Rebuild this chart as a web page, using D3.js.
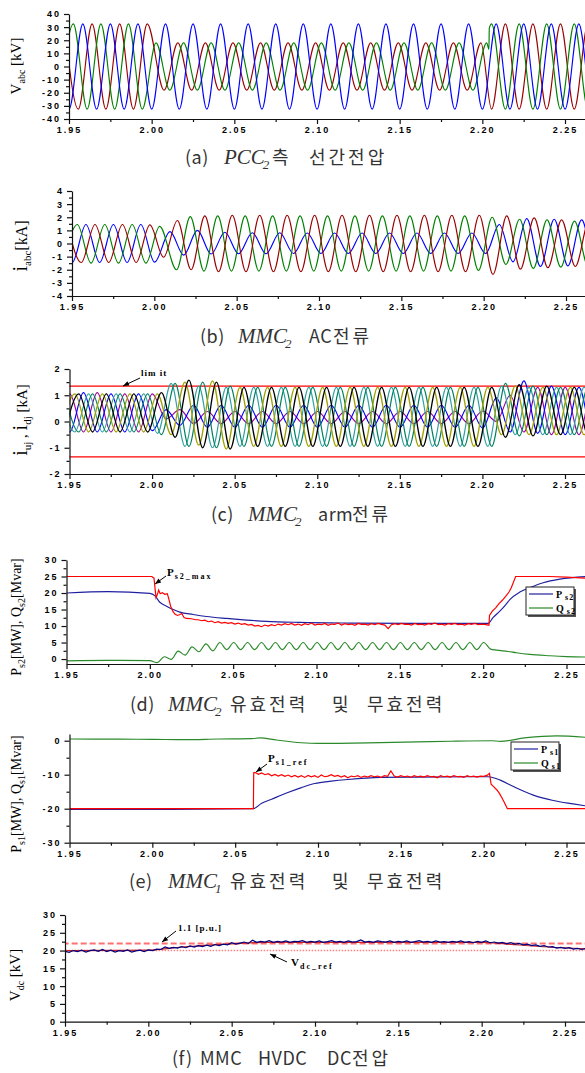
<!DOCTYPE html>
<html>
<head>
<meta charset="utf-8">
<script src="https://cdn.jsdelivr.net/npm/d3@7"></script>
<style>
  body { margin: 0; background: #fff; }
  svg { display: block; }
  .ax .domain, .ax .tick line { stroke: #111; stroke-width: 1.2; }
  .ax .tick text { font-family: "Liberation Sans", Arial, sans-serif; font-weight: bold; font-size: 9px; letter-spacing: 2px; fill: #000; }
  .lbl { font-family: "Liberation Serif", "Times New Roman", serif; fill: #000; }
  .cap { font-family: "Noto Sans CJK KR", sans-serif; font-size: 18px; fill: #333; letter-spacing: 3px; }
  .capl { font-family: "Noto Sans CJK KR", sans-serif; font-size: 18px; fill: #333; letter-spacing: 0.5px; }
  .capi { font-family: "Liberation Serif", "Times New Roman", serif; font-style: italic; font-size: 21px; fill: #333; }
  .note { font-family: "Liberation Serif", "Times New Roman", serif; font-weight: bold; fill: #000; }
</style>
</head>
<body>
<svg id="fig" width="585" height="1073"></svg>
<script>
const W = 585;
const HALF = 1 / 120;   // half cycle, 60 Hz
const RIP = 1 / 240;    // half cycle of the 120 Hz ripple

// time axis [s]
const xTicks = [1.95, 2.00, 2.05, 2.10, 2.15, 2.20, 2.25];
const xMinor = [1.975, 2.025, 2.075, 2.125, 2.175, 2.225];

// (a) PCC2 line voltages [kV] - extremes every half cycle
const aYTicks = [-40, -30, -20, -10, 0, 10, 20, 30, 40];
const aYMinor = [-35, -25, -15, -5, 5, 15, 25, 35];
const aBlue = [
  {t0: 1.9417, dt: HALF, v: [32.5,-32.5,32.5,-32.5,32.5,-32.5,32.5,-32.5,32.5,-32.5,
    32.5,-32.5,32.5,-32.5,32.5,-32.5,32.5,-32.5,32.5,-32.5,
    32.5,-32.5,32.5,-32.5,32.5,-32.5,32.5,-32.5,32.5,-32.5,
    32.5,-32.5,32.5,-32.5,32.5,-32.5,32.5,-32.5,32.5,-32.5,32.5]}
];
const aRed = [
  {t0: 1.9473, dt: HALF, v: [32.5,-32.5,32.5,-32.5,32.5,-32.5,32.5]},
  {t0: 2.0075, dt: HALF, v: [-18,18,-18,18,-18,18,-18,18,-18,18,-18,18,
    -18,18,-18,18,-18,18,-18,18,-18,18,-18,18]},
  {t0: 2.2056, dt: HALF, v: [-32.5,32.5,-32.5,32.5,-32.5,32.5,-32.5,32.5,-32.5]}
];
const aGreen = [
  {t0: 1.9443, dt: HALF, v: [-32.5,32.5,-32.5,32.5,-32.5,32.5,-32.5,
    18,-18,18,-18,18,-18,18,-18,18,-18,18,-18,18,-18,18,-18,18,-18,18,-18,18,-18,18,-18,18]},
  {pts: [[2.2040, 13], [2.2042, 29]]},
  {t0: 2.2056, dt: HALF, v: [32.5,-32.5,32.5,-32.5,32.5,-32.5,32.5,-32.5,32.5]}
];

// (b) MMC2 AC currents [kA]
const bYTicks = [-4, -3, -2, -1, 0, 1, 2, 3, 4];
const bYMinor = [-3.5, -2.5, -1.5, -0.5, 0.5, 1.5, 2.5, 3.5];
const bBlue = [
  {t0: 1.9418, dt: HALF, v: [1.45,-1.45,1.45,-1.45,1.45,-1.45,1.45,-1.42]},
  {t0: 2.0095, dt: HALF, v: [0.9,-0.88,1.0,-0.8,0.86,-0.78,0.82,-0.78,0.82,-0.76,0.8,-0.76,
    0.8,-0.76,0.8,-0.76,0.8,-0.76,0.8,-0.76,0.8,-0.76,0.8,-0.76]},
  {t0: 2.2095, dt: HALF, v: [1.45,-1.4,1.9,-1.75,1.85,-1.7,1.8,-1.65,1.75]}
];
const bRed = [
  {t0: 1.9473, dt: HALF, v: [1.45,-1.45,1.45,-1.45,1.45,-1.45,1.42,-1.05]},
  {t0: 2.0140, dt: HALF, v: [1.75,-2.0,2.1,-2.15,2.15,-2.15,2.15,-2.15,2.15,-2.15,2.15,-2.15,
    2.15,-2.15,2.15,-2.15,2.15,-2.15,2.15,-2.15,2.15,-2.15,2.15,-2.35,
    2.1,-1.95,1.95,-1.85,1.8,-1.75,1.7,-1.7]}
];
const bGreen = [
  {t0: 1.9449, dt: HALF, v: [-1.45,1.45,-1.5,1.45,-1.5,1.45,-1.5,1.3]},
  {t0: 2.0135, dt: HALF, v: [-2.0,2.05,-2.1,2.1,-2.1,2.1,-2.1,2.1,-2.1,2.1,-2.1,2.1,
    -2.1,2.1,-2.1,2.1,-2.1,2.1,-2.1,2.1,-2.1,2.1,-2.05,2.0,
    -1.6,1.85,-1.9,1.8,-1.8,1.7,-1.75,1.7]}
];

// (c) MMC2 arm currents [kA]
const cYTicks = [-2, -1, 0, 1, 2];
const cYMinor = [-1.5, -0.5, 0.5, 1.5];
const cLimit = 1.35;
const cGreen = [{t0: 1.9473, dt: HALF, v: [1.05,-0.4,1.05,-0.4,1.05,-0.4,1.05,
  -0.5,1.45,-0.95,1.5,-1.0,1.35,
  -0.95,1.3,-0.95,1.3,-0.95,1.3,-0.95,1.3,-0.95,1.3,-0.95,1.3,-0.95,1.3,-0.95,1.3,-0.95,1.3,
  -0.95,
  1.45,-0.55,1.35,-0.5,1.3,-0.5,1.3,-0.5]}];
const cBlack = [{t0: 1.9473, dt: HALF, v: [-0.4,1.05,-0.4,1.05,-0.4,1.05,-0.4,
  1.1,-0.6,1.58,-1.0,1.5,-1.05,
  1.3,-0.95,1.3,-0.95,1.3,-0.95,1.3,-0.95,1.3,-0.95,1.3,-0.95,1.3,-0.95,1.3,-0.95,1.3,-0.95,
  1.3,
  -0.6,1.4,-0.55,1.35,-0.5,1.3,-0.5,1.3]}];
const cOlive = [{t0: 1.9449, dt: HALF, v: [-0.4,1.05,-0.4,1.05,-0.4,1.05,-0.4,
  1.05,-0.5,1.5,-0.9,1.55,-1.05,
  1.3,-0.95,1.3,-0.95,1.3,-0.95,1.3,-0.95,1.3,-0.95,1.3,-0.95,1.3,-0.95,1.3,-0.95,1.3,-0.95,
  1.3,
  -0.5,1.35,-0.5,1.3,-0.5,1.3,-0.5,1.3]}];
const cTeal = [{t0: 1.9449, dt: HALF, v: [1.05,-0.4,1.05,-0.4,1.05,-0.4,1.05,
  -0.45,1.45,-0.95,1.35,-1.0,1.3,
  -0.95,1.3,-0.95,1.3,-0.95,1.3,-0.95,1.3,-0.95,1.3,-0.95,1.3,-0.95,1.3,-0.95,1.3,-0.95,1.3,
  -0.95,
  1.35,-0.5,1.3,-0.5,1.3,-0.5,1.3,-0.5]}];
const cBlue = [{t0: 1.9418, dt: HALF, v: [1.05,-0.4,1.1,-0.4,1.05,-0.4,1.05,-0.35,
  0.45,-0.15,
  0.62,-0.22,0.62,-0.22,0.62,-0.22,0.62,-0.22,0.62,-0.22,0.62,-0.22,0.62,-0.22,0.62,-0.22,0.62,-0.22,0.62,-0.22,0.62,
  -0.25,0.9,
  -0.4,1.55,-0.45,1.35,-0.5,1.3,-0.5,1.3]}];
const cPurple = [{t0: 1.9418, dt: HALF, v: [-0.4,1.05,-0.4,1.1,-0.4,1.05,-0.4,1.05,
  0.1,0.45,
  -0.08,0.38,-0.08,0.38,-0.08,0.38,-0.08,0.38,-0.08,0.38,-0.08,0.38,-0.08,0.38,-0.08,0.38,-0.08,0.38,-0.08,0.38,-0.08,
  0.4,0.0,
  1.0,-0.4,1.3,-0.5,1.3,-0.5,1.3,-0.5]}];

// (d) MMC2 active / reactive power
const dYTicks = [0, 5, 10, 15, 20, 25, 30];
const dYMinor = [2.5, 7.5, 12.5, 17.5, 22.5, 27.5];
const dRef = [
  {pts: [[1.95,25],[2.0012,25],[2.0025,24.5],[2.0037,18.6],[2.0045,19.5],[2.0053,20.9],[2.0062,19.8],
    [2.0075,20.1],[2.009,19.6],[2.0105,19.8],[2.0115,18],[2.0125,16],[2.0138,14.5],[2.015,13.6],
    [2.0165,13.2],[2.0178,13.4],[2.0192,13.8],[2.0205,12.6],[2.022,12.3],[2.025,12.2],[2.0275,11.9]]},
  {t0: 2.029, dt: 0.002, v: [11.9,11.6,11.8,11.3,11.5,11.0,11.3,10.9,11.1,10.8,
    11.0,10.6,10.9,10.5,10.7,10.3,10.5,10.0,10.2,9.8,
    10.3,10.0,10.4,10.1,10.6,10.3,10.7,10.4,10.8,10.3,
    10.6,10.2,10.7,10.4,10.9,10.3,10.6,10.4,10.8,10.2,
    10.6,10.5,10.9,10.3,10.7,10.4,10.6,10.2,10.8,10.5,
    10.6,10.3,10.7,10.4,10.8,10.5,10.3,9.2,10.4,10.7,
    10.4,10.8,10.5,10.6,10.3,10.8,10.4,10.6,10.3,10.7,
    10.5,10.9,10.4,10.6,10.3,10.7,10.5,10.8,10.4,10.6,
    10.3,10.7,10.5,10.8,10.4,10.6,10.5,10.3]},
  {pts: [[2.2035,10.3],[2.2038,13.2],[2.2055,14.5],[2.2075,15.5],[2.2095,16.8],[2.2115,17.8],
    [2.2135,19],[2.2155,20.3],[2.2168,21.5],[2.2195,25],[2.24,25],[2.25,24.8],[2.262,24.5]]}
];
const dP = [{pts: [[1.95,20.0],[1.975,20.4],[2.0,19.9],[2.003,19.2],[2.006,17.2],[2.010,16.0],[2.014,15.0],
  [2.018,14.2],[2.026,13.5],[2.034,12.9],[2.046,12.3],[2.058,11.8],[2.07,11.4],[2.09,11.1],[2.12,10.9],
  [2.16,10.8],[2.203,10.8],[2.206,12.6],[2.210,14.5],[2.2136,16.5],[2.216,18.0],[2.222,20.3],[2.228,21.6],
  [2.236,23.1],[2.246,24.2],[2.262,25.0]]}];
const dQ = [
  {pts: [[1.95,-0.55],[1.975,-0.4],[2.0,-0.5]]},
  {t0: 2.0045, dt: RIP, v: [-1.1,0.7,-0.1,2.4,1.2,3.7,2.2,4.6,2.5,5.0,
    2.85,5.0,2.85,5.0,2.85,5.0,2.85,5.0,2.85,5.0,2.85,5.0,2.85,5.0,2.85,5.0,2.85,5.0,2.85,5.0,
    2.85,5.0,2.85,5.0,2.85,5.0,2.85,5.0,2.85,5.0,2.85,5.0,2.85,5.0,2.85,5.0,2.85,5.0]},
  {pts: [[2.2045,3.0],[2.208,2.7],[2.215,2.3],[2.22,1.9],[2.228,1.4],[2.24,1.0],[2.25,0.75],[2.262,0.6]]}
];

// (e) MMC1 active / reactive power
const eYTicks = [-30, -20, -10, 0];
const eYMinor = [-25, -15, -5];
const eRef = [
  {pts: [[1.95,-20],[2.0610,-20],[2.0612,-9.4]]},
  {t0: 2.062, dt: 0.002, v: [-9.3,-9.9,-9.5,-10.0,-9.7,-10.3,-9.9,-10.4,-10.0,-10.5,
    -10.1,-10.6,-10.2,-10.7,-10.3,-10.8,-10.2,-10.6,-10.3,-10.8,
    -10.1,-10.6,-10.4,-10.0,-10.5,-10.2,-10.7,-10.3,-10.9,-10.4,
    -10.6,-10.3,-10.8,-10.4,-10.7,-10.3,-10.6,-10.4,-10.8,-10.3,
    -10.5,-8.9,-10.4,-10.7,-10.3,-10.6,-10.4,-10.8,-10.3,-10.6,
    -10.4,-10.7,-10.3,-10.6,-10.5,-10.9,-10.3,-10.6,-10.4,-10.7,
    -10.3,-10.6,-10.5,-10.8,-10.3,-10.6,-10.4,-10.7,-10.4,-10.5,-10.2]},
  {pts: [[2.2035,-9.6],[2.2045,-12.8],[2.206,-13.5],[2.208,-14.5],[2.2095,-15.5],[2.211,-16.8],
    [2.2125,-18.2],[2.2143,-20],[2.262,-20]]}
];
const eP = [{pts: [[1.95,-20.2],[2.0,-20.2],[2.061,-20.0],[2.066,-18.4],[2.072,-17.2],[2.081,-15.4],[2.09,-13.8],
  [2.098,-12.6],[2.108,-11.9],[2.118,-11.4],[2.138,-10.8],[2.16,-10.7],[2.203,-10.6],[2.21,-11.6],
  [2.218,-13.5],[2.23,-16.0],[2.242,-17.6],[2.254,-18.6],[2.262,-19.2]]}];
const eQ = [{pts: [[1.95,0.5],[1.98,0.45],[2.0,0.4],[2.02,0.3],[2.04,0.5],[2.06,0.6],[2.065,0.85],[2.075,0.2],
  [2.09,-0.6],[2.10,-0.8],[2.13,-0.65],[2.16,-0.35],[2.18,-0.15],[2.205,0.0],[2.21,-0.2],[2.226,0.9],
  [2.244,1.4],[2.262,1.0]]}];

// (f) DC voltage [kV]
const fYTicks = [0, 5, 10, 15, 20, 25, 30];
const fYMinor = [2.5, 7.5, 12.5, 17.5, 22.5, 27.5];
const fLimit = 22;    // 1.1 p.u.
const fRefLevel = 20; // Vdc_ref
const fVdc = [{t0: 1.95, dt: 0.0025, v: [19.8,19.5,20.0,19.7,20.1,19.6,20.0,20.2,19.8,20.3,
  19.7,20.1,19.6,20.0,19.8,20.2,19.6,19.9,20.1,19.7,
  20.2,20.0,20.4,20.3,21.0,20.6,20.9,20.7,21.1,20.8,
  21.3,21.0,21.4,21.1,21.5,21.2,21.7,21.4,21.8,21.6,
  22.2,21.8,22.1,22.4,22.0,22.9,22.3,22.6,22.4,22.8,
  22.3,22.6,22.4,22.7,22.3,22.6,22.5,22.8,22.3,22.6,
  22.4,22.7,22.3,22.5,22.8,22.4,22.6,22.3,22.7,22.4,
  22.5,23.0,22.4,22.6,22.3,22.7,22.5,22.4,22.7,22.3,
  22.6,22.4,22.7,22.3,22.5,22.8,22.4,22.6,22.3,22.7,
  22.4,22.5,22.3,22.6,22.4,22.7,22.3,22.5,22.2,22.6,
  22.3,22.7,22.2,22.4,22.1,22.3,21.9,22.2,21.8,22.0,
  21.6,21.8,21.4,21.6,21.2,21.4,21.0,21.1,20.7,20.9,
  20.6,20.8,20.4,20.6,20.3,20.6]}];
const fVdcRed = [{pts: [[1.95,20.0],[2.0,20.1],[2.02,21.0],[2.05,21.9],[2.07,22.3],[2.2,22.3],[2.21,22.0],
  [2.24,21.0],[2.262,20.5]]}];

function expand(segs) {
  const out = [];
  segs.forEach(s => {
    if (s.pts) s.pts.forEach(p => out.push(p));
    else s.v.forEach((v, i) => out.push([s.t0 + i * s.dt, v]));
  });
  return out;
}
const flat = v => [{pts: [[1.9, v], [2.3, v]]}];

const svg = d3.select("#fig");
const defs = svg.append("defs");
defs.append("marker").attr("id", "arr").attr("viewBox", "0 0 10 10")
  .attr("refX", 10).attr("refY", 5).attr("markerWidth", 7).attr("markerHeight", 6)
  .attr("markerUnits", "userSpaceOnUse").attr("orient", "auto")
  .append("path").attr("d", "M0,1 L10,5 L0,9 z").attr("fill", "#000");

const panels = [
  {x0: 69, x225: 565, yDom: [-40, 40], yBot: 119, yTop: 14, yTicks: aYTicks, yMinor: aYMinor,
   series: [{segs: aRed, color: "#990000"}, {segs: aGreen, color: "#008000"}, {segs: aBlue, color: "#0000ff"}]},
  {x0: 72, x225: 566, yDom: [-4, 4], yBot: 296, yTop: 191, yTicks: bYTicks, yMinor: bYMinor,
   series: [{segs: bBlue, color: "#0000ff"}, {segs: bGreen, color: "#008000"}, {segs: bRed, color: "#990000"}]},
  {x0: 69.5, x225: 565, yDom: [-2, 2], yBot: 474, yTop: 369, yTicks: cYTicks, yMinor: cYMinor,
   series: [{segs: flat(cLimit), color: "#ff0000", linear: true}, {segs: flat(-cLimit), color: "#ff0000", linear: true},
     {segs: cPurple, color: "#990099"}, {segs: cBlue, color: "#0000ff"}, {segs: cTeal, color: "#30a0a0"},
     {segs: cGreen, color: "#008060"}, {segs: cOlive, color: "#a0a000", w: 1.3}, {segs: cBlack, color: "#000", w: 1.3}]},
  {x0: 66.5, x225: 566.5, yDom: [-1.5, 30], yBot: 664, yTop: 560, yTicks: dYTicks, yMinor: dYMinor,
   series: [{segs: dQ, color: "#2a8a2a"}, {segs: dP, color: "#1f1f9f"}, {segs: dRef, color: "#ff0000", linear: true, w: 1.2}]},
  {x0: 69.5, x225: 566.5, yDom: [-30, 2], yBot: 842.7, yTop: 733.9, yTicks: eYTicks, yMinor: eYMinor,
   series: [{segs: eQ, color: "#2a8a2a"}, {segs: eP, color: "#1f1f9f"}, {segs: eRef, color: "#ff0000", linear: true, w: 1.2}]},
  {x0: 65, x225: 565, yDom: [0, 30], yBot: 1021.7, yTop: 915, yTicks: fYTicks, yMinor: fYMinor,
   series: [{segs: flat(fLimit), color: "#ff7070", linear: true, w: 2, dash: "6,3"},
     {segs: flat(fRefLevel), color: "#ff8080", linear: true, w: 1.6, dash: "1.5,1.5"},
     {segs: fVdcRed, color: "#cc2222", w: 1.2},
     {segs: fVdc, color: "#000080", linear: true, w: 1.2}]}
];

panels.forEach((p, i) => {
  const xEnd = 1.95 + (W - p.x0) / (p.x225 - p.x0) * 0.30;
  const x = d3.scaleLinear().domain([1.95, xEnd]).range([p.x0, W]);
  const y = d3.scaleLinear().domain(p.yDom).range([p.yBot, p.yTop]);
  const g = svg.append("g");
  defs.append("clipPath").attr("id", "clip" + i).append("rect")
    .attr("x", p.x0).attr("y", p.yTop - 4).attr("width", W - p.x0).attr("height", p.yBot - p.yTop + 4);
  const plot = g.append("g").attr("clip-path", `url(#clip${i})`);
  p.series.forEach(s => {
    const line = d3.line().x(d => x(d[0])).y(d => y(d[1]))
      .curve(s.linear ? d3.curveLinear : d3.curveMonotoneX);
    plot.append("path").datum(expand(s.segs))
      .attr("fill", "none").attr("stroke", s.color).attr("stroke-width", s.w || 1.15)
      .attr("stroke-dasharray", s.dash || null).attr("d", line);
  });

  g.append("g").attr("class", "ax").attr("transform", `translate(0,${p.yBot})`)
    .call(d3.axisBottom(x).tickValues(xTicks).tickFormat(d3.format(".2f")).tickSize(5).tickSizeOuter(0));
  g.append("g").attr("class", "ax").attr("transform", `translate(0,${p.yBot})`)
    .call(d3.axisBottom(x).tickValues(xMinor).tickFormat("").tickSize(3))
    .call(a => a.select(".domain").remove());
  g.append("g").attr("class", "ax").attr("transform", `translate(${p.x0},0)`)
    .call(d3.axisLeft(y).tickValues(p.yTicks).tickFormat(d => String(d)).tickSize(5).tickSizeOuter(0));
  g.append("g").attr("class", "ax").attr("transform", `translate(${p.x0},0)`)
    .call(d3.axisLeft(y).tickValues(p.yMinor).tickFormat("").tickSize(3))
    .call(a => a.select(".domain").remove());
});

// rotated y-axis titles
function yTitle(cx, cy, parts) {
  const t = svg.append("text").attr("class", "lbl").attr("text-anchor", "middle")
    .attr("transform", `translate(${cx},${cy}) rotate(-90)`);
  let shift = 0;
  parts.forEach(p => {
    const want = p.sub ? 4 : 0;
    t.append("tspan").attr("dy", want - shift).style("font-size", p.size + "px").text(p.t);
    shift = want;
  });
}
yTitle(21, 66, [{t: "V", size: 15}, {t: "abc", size: 10, sub: true}, {t: " [kV]", size: 15}]);
yTitle(27, 246, [{t: "i", size: 20}, {t: "abc", size: 11, sub: true}, {t: "[kA]", size: 16}]);
yTitle(27, 420, [{t: "i", size: 20}, {t: "uj", size: 11, sub: true}, {t: " , ", size: 15},
  {t: "i", size: 20}, {t: "dj", size: 11, sub: true}, {t: " [kA]", size: 15}]);
yTitle(21, 617, [{t: "P", size: 14}, {t: "s2", size: 10, sub: true}, {t: "[MW], Q", size: 14},
  {t: "s2", size: 10, sub: true}, {t: "[Mvar]", size: 14}]);
yTitle(21, 794, [{t: "P", size: 14}, {t: "s1", size: 10, sub: true}, {t: "[MW], Q", size: 14},
  {t: "s1", size: 10, sub: true}, {t: "[Mvar]", size: 14}]);
yTitle(20, 975, [{t: "V", size: 15}, {t: "dc", size: 10, sub: true}, {t: " [kV]", size: 15}]);

// captions: k = Korean, i = italic serif symbol, otherwise latin
function caption(y, pieces) {
  pieces.forEach(pc => {
    const t = svg.append("text").attr("x", pc.x).attr("y", y)
      .attr("class", pc.i ? "capi" : pc.k ? "cap" : "capl");
    t.append("tspan").text(pc.t);
    if (pc.sub) t.append("tspan").attr("dx", -2).attr("dy", 5).style("font-size", "13px").text(pc.sub);
  });
}
caption(164, [{x: 185, t: "(a)"}, {x: 224, t: "PCC", i: true, sub: "2"}, {x: 272, t: "측", k: true}, {x: 309, t: "선간전압", k: true}]);
caption(343, [{x: 200, t: "(b)"}, {x: 238, t: "MMC", i: true, sub: "2"}, {x: 309, t: "AC"}, {x: 333, t: "전류", k: true}]);
caption(521, [{x: 211, t: "(c)"}, {x: 248, t: "MMC", i: true, sub: "2"}, {x: 318, t: "arm"}, {x: 352, t: "전류", k: true}]);
caption(711, [{x: 130, t: "(d)"}, {x: 168, t: "MMC", i: true, sub: "2"}, {x: 230, t: "유효전력", k: true}, {x: 332, t: "및", k: true}, {x: 367, t: "무효전력", k: true}]);
caption(888, [{x: 129, t: "(e)"}, {x: 168, t: "MMC", i: true, sub: "1"}, {x: 230, t: "유효전력", k: true}, {x: 332, t: "및", k: true}, {x: 367, t: "무효전력", k: true}]);
caption(1065, [{x: 172, t: "(f)"}, {x: 200, t: "MMC"}, {x: 258, t: "HVDC"}, {x: 327, t: "DC"}, {x: 352, t: "전압", k: true}]);

// annotations with arrows
function note(x, y, main, sub, size, ax1, ay1, ax2, ay2) {
  const t = svg.append("text").attr("class", "note").attr("x", x).attr("y", y);
  t.append("tspan").style("font-size", size + "px").style("letter-spacing", "1px").text(main);
  if (sub) t.append("tspan").attr("dy", 3).style("font-size", "8px").style("letter-spacing", "2px").text(sub);
  svg.append("line").attr("x1", ax1).attr("y1", ay1).attr("x2", ax2).attr("y2", ay2)
    .attr("stroke", "#000").attr("stroke-width", 1).attr("marker-end", "url(#arr)");
}
note(141, 376, "lim it", null, 9, 140, 378, 123, 386);
note(167, 576, "P", "s2_max", 11, 166, 576, 155, 584);
note(268, 762, "P", "s1_ref", 11, 267, 764, 256, 772);
note(178, 931, "1.1 [p.u.]", null, 9, 176, 931, 162, 942);
note(291, 966, "V", "dc_ref", 11, 287, 962, 270, 954);

// legends
function legend(x, y, w, h, items) {
  svg.append("rect").attr("x", x + 2).attr("y", y + 2).attr("width", w).attr("height", h).attr("fill", "#555");
  svg.append("rect").attr("x", x).attr("y", y).attr("width", w).attr("height", h)
    .attr("fill", "#fff").attr("stroke", "#222").attr("stroke-width", 1);
  items.forEach((it, i) => {
    const yy = y + 7 + i * 14;
    svg.append("line").attr("x1", x + 3).attr("x2", x + 27).attr("y1", yy).attr("y2", yy)
      .attr("stroke", it.color).attr("stroke-width", 1.2);
    const t = svg.append("text").attr("class", "note").attr("x", x + 30).attr("y", yy + 4);
    t.append("tspan").style("font-size", "10px").text(it.main);
    t.append("tspan").attr("dy", 2).style("font-size", "8px").style("letter-spacing", "1px").text(" " + it.sub);
  });
}
legend(526, 587, 48, 28, [{color: "#1f1f9f", main: "P", sub: "s2"}, {color: "#2a8a2a", main: "Q", sub: "s2"}]);
legend(511, 742, 48, 28, [{color: "#1f1f9f", main: "P", sub: "s1"}, {color: "#2a8a2a", main: "Q", sub: "s1"}]);
</script>
</body>
</html>
